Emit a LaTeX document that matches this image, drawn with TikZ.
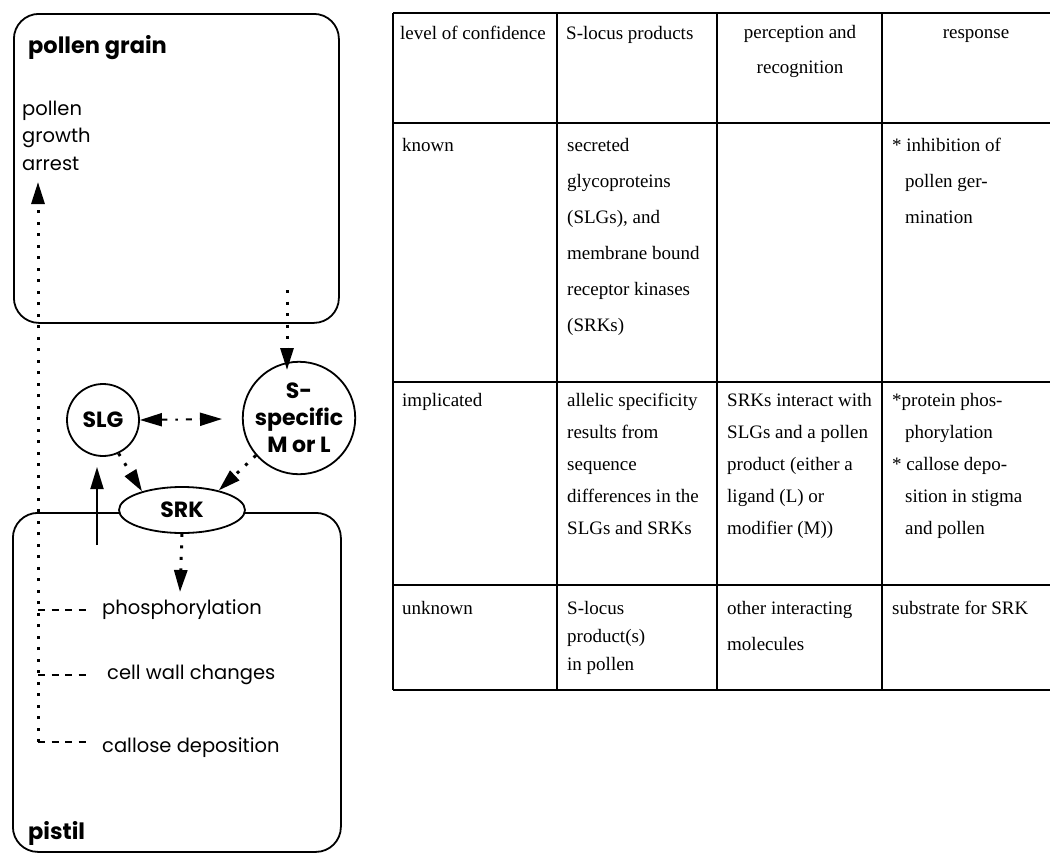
\documentclass[tikz,border=0pt]{standalone}
\usepackage{fontspec}
\setmainfont{Liberation Serif}
\newfontfamily\pop{Poppins}
\usetikzlibrary{arrows.meta,shapes.geometric}
\newcommand\firststrut{\strut}
\begin{document}
\begin{tikzpicture}[x=1pt,y=-1pt,
  box/.style={draw,line width=1.8pt,rounded corners=25pt,inner sep=0pt,anchor=north west},
  lbl/.style={font=\pop\fontsize{19.5}{27.5}\selectfont,inner sep=0pt,anchor=west},
  blbl/.style={font=\pop\bfseries\fontsize{22.5}{27}\selectfont,inner sep=0pt,anchor=west},
  circ/.style={draw,circle,line width=1.8pt,font=\pop\bfseries\fontsize{22}{27}\selectfont,align=center,inner sep=0pt},
  dots/.style={line width=3pt,dash pattern=on 3pt off 8.5pt},
  dsh/.style={line width=2pt,dash pattern=on 7pt off 6.5pt},
  tip/.style={-{Triangle[length=22pt,width=13pt]}},
  grid/.style={line width=1.8pt},
  cell/.style={font=\fontsize{19}{36}\selectfont,align=left,inner sep=0pt,anchor=north west},
  icell/.style={font=\fontsize{19}{32}\selectfont,align=left,inner sep=0pt,anchor=north west},
  hcell/.style={font=\fontsize{19}{35}\selectfont,align=center,inner sep=0pt,anchor=north},
]
\useasboundingbox (0,0) rectangle (1050,854);
% ---------- left diagram ----------
\node[box,minimum width=325pt,minimum height=309pt] (pg) at (13,13) {};
\node[blbl] (pgt) at (28,48) {pollen grain};
\node[lbl,align=left,anchor=north west] (arr) at (22,96) {\firststrut pollen\\growth\\arrest};
\node[box,minimum width=328pt,minimum height=339pt] (pb) at (12,512) {};
\node[blbl] (pi) at (28,833) {pistil};

\node[circ,minimum size=72pt] (slg) at (103,420) {SLG};
\node[circ,minimum size=98pt] (ss) at (299,418) {S-\\specific\\M or L};
\node[draw,ellipse,line width=1.8pt,fill=white,minimum width=126pt,minimum height=46pt,
      font=\pop\bfseries\fontsize{22}{27}\selectfont] (srk) at (182,510) {SRK};

\node[lbl] (ph) at (102,610) {phosphorylation};
\node[lbl] (cw) at (107,675) {cell wall changes};
\node[lbl] (cd) at (102,748) {callose deposition};

\coordinate (top) at (38,182);
\coordinate (bot) at (38,742);
\coordinate (ssin) at (287,290);
\coordinate (ssend) at (287,370);
\coordinate (dbl) at (222,419);
\coordinate (up) at (97,545);
\coordinate (uptip) at (97,467);
\coordinate (down) at (180,592);

\draw[dots,tip] (bot) -- (top);
\draw[dsh] (38,610) -- (91,610);
\draw[dsh] (38,675) -- (91,675);
\draw[dsh] (38,742) -- (91,742);
\draw[dots,tip] (ssin) -- (ssend);
\draw[line width=2pt,dash pattern=on 6pt off 8pt on 2.5pt off 8pt,
  {Triangle[length=22pt,width=13pt]}-{Triangle[length=22pt,width=13pt]}] (slg.east) -- (dbl);
\draw[dots,tip] (slg.-65) -- (srk.155);
\draw[dots,tip] (ss.221) -- (srk.28);
\draw[line width=1.8pt,tip] (up) -- (uptip);
\draw[dots,tip] (srk.south) -- (down);

% ---------- table ----------
\foreach \y in {13,123,382,585,690} \draw[grid] (393,\y) -- (1050,\y);
\foreach \x in {393,557,717,882} \draw[grid] (\x,13) -- (\x,690);

\node[cell] (h1) at (400,14) {\firststrut level of confidence};
\node[cell] (h2) at (566,14) {\firststrut S-locus products};
\node[hcell] (h3) at (800,14) {\firststrut perception and\\recognition};
\node[hcell] (h4) at (976,14) {\firststrut response};

\node[cell] (k1) at (402,126) {\firststrut known};
\node[cell] (k2) at (567,126) {\firststrut secreted\\glycoproteins\\(SLGs), and\\membrane bound\\receptor kinases\\(SRKs)};
\node[cell] (k4) at (892,126) {\firststrut * inhibition of\\\hspace*{13pt}pollen ger-\\\hspace*{13pt}mination};

\node[icell] (i1) at (402,384) {\firststrut implicated};
\node[icell] (i2) at (567,384) {\firststrut allelic specificity\\results from\\sequence\\differences in the\\SLGs and SRKs};
\node[icell] (i3) at (727,384) {\firststrut SRKs interact with\\SLGs and a pollen\\product (either a\\ligand (L) or\\modifier (M))};
\node[icell] (i4) at (892,384) {\firststrut *protein phos-\\\hspace*{13pt}phorylation\\* callose depo-\\\hspace*{13pt}sition in stigma\\\hspace*{13pt}and pollen};

\node[cell] (u1) at (402,589) {\firststrut unknown};
\node[cell,font=\fontsize{19}{28}\selectfont] (u2) at (567,595) {\firststrut S-locus\\product(s)\\in pollen};
\node[cell] (u3) at (727,589) {\firststrut other interacting\\molecules};
\node[cell] (u4) at (892,589) {\firststrut substrate for SRK};
\end{tikzpicture}
\end{document}
